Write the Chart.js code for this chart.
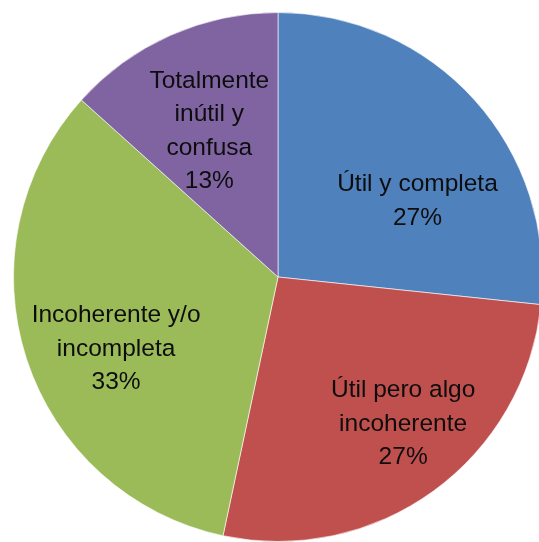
<!DOCTYPE html>
<html>
<head>
<meta charset="utf-8">
<script src="https://cdn.jsdelivr.net/npm/chart.js@4"></script>
<style>
  html, body { margin: 0; padding: 0; background: #fff; overflow: hidden; }
  #wrap { width: 545px; height: 542px; position: relative; }
</style>
</head>
<body>
<div id="wrap"><canvas id="pie"></canvas></div>
<script>
// datos de la encuesta (respuestas por categoría)
const categories = ['Útil y completa', 'Útil pero algo incoherente', 'Incoherente y/o incompleta', 'Totalmente inútil y confusa'];
const counts = [4, 4, 5, 2];
const percentLabels = ['27%', '27%', '33%', '13%'];
const colors = ['#4F81BD', '#C0504D', '#9BBB59', '#8064A2'];

// cómo se parte cada etiqueta en líneas
const labelLines = [
    ['Útil y completa'],
    ['Útil pero algo', 'incoherente'],
    ['Incoherente y/o', 'incompleta'],
    ['Totalmente', 'inútil y', 'confusa']
];

// posición de la etiqueta: fracción del radio y desplazamiento de ángulo (grados)
const labelFrac = [0.60, 0.73, 0.67, 0.61];
const labelShift = [13.5, -4.4, -6, -1.2];

const labelPlugin = {
    id: 'labels',
    afterDatasetsDraw(chart) {
        const ctx = chart.ctx;
        const meta = chart.getDatasetMeta(0);
        ctx.save();
        ctx.font = '24.5px "Liberation Sans", Arial, sans-serif';
        ctx.fillStyle = '#0d0d0d';
        ctx.textAlign = 'center';
        ctx.textBaseline = 'middle';
        meta.data.forEach(function (arc, i) {
            const p = arc.getProps(['x', 'y', 'startAngle', 'endAngle', 'outerRadius'], true);
            const a = (p.startAngle + p.endAngle) / 2 + labelShift[i] * Math.PI / 180;
            const r = p.outerRadius * labelFrac[i];
            const cx = p.x + Math.cos(a) * r;
            const cy = p.y + Math.sin(a) * r;
            const lines = labelLines[i].concat([percentLabels[i]]);
            const lh = 33.5;
            const top = cy - (lines.length - 1) * lh / 2;
            lines.forEach(function (t, j) {
                ctx.fillText(t, cx, top + j * lh);
            });
        });
        ctx.restore();
    }
};

const ctx = document.getElementById('pie').getContext('2d');
new Chart(ctx, {
    type: 'pie',
    data: {
        labels: categories,
        datasets: [{
            data: counts,
            backgroundColor: colors,
            borderColor: 'rgba(255,255,255,0.6)',
            borderWidth: 1
        }]
    },
    options: {
        responsive: true,
        maintainAspectRatio: false,
        animation: false,
        layout: { padding: { left: 13, right: 2, top: 12, bottom: 0 } },
        plugins: {
            legend: { display: false },
            tooltip: { enabled: false }
        }
    },
    plugins: [labelPlugin]
});
</script>
</body>
</html>
